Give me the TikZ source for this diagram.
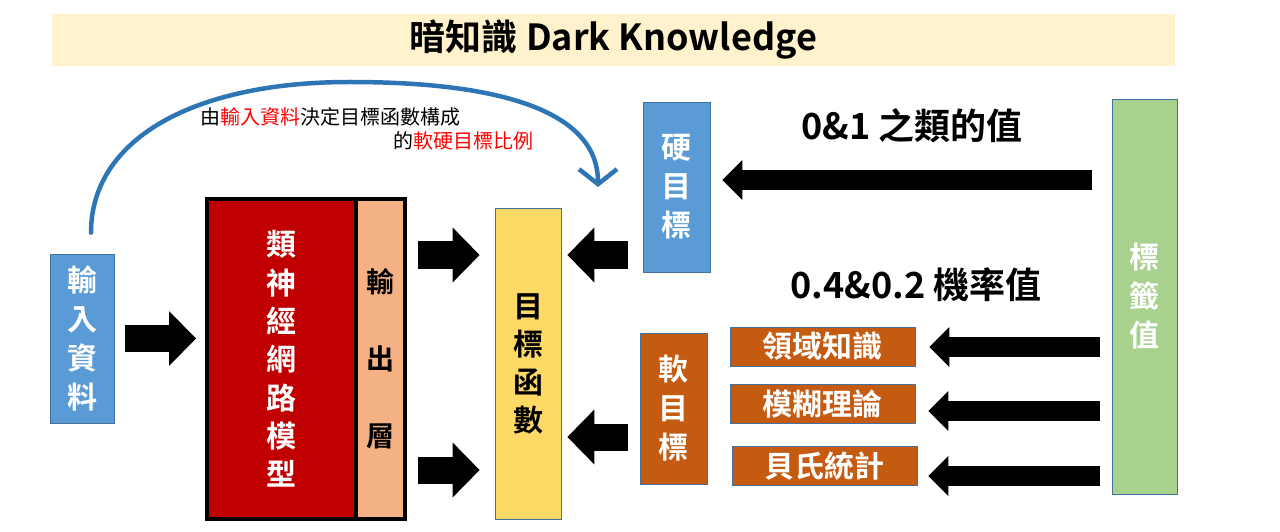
\documentclass[tikz,border=0pt]{standalone}
\usepackage{fontspec}
\setmainfont{Noto Sans CJK TC}[BoldFont={Noto Sans CJK TC Bold}]
\usepackage{tikz}
\usetikzlibrary{arrows.meta,positioning,calc}
\definecolor{boxline}{HTML}{41719C}
\definecolor{skyblue}{HTML}{5B9BD5}
\definecolor{leafgreen}{HTML}{A9D18E}
\definecolor{rust}{HTML}{C55A11}
\definecolor{sun}{HTML}{FFD966}
\definecolor{deepred}{HTML}{C00000}
\definecolor{peach}{HTML}{F4B183}
\definecolor{cream}{HTML}{FFF2CC}
\definecolor{penblue}{HTML}{2E75B6}

\begin{document}
\begin{tikzpicture}[x=1pt,y=1pt,
  v/.style={draw=boxline,line width=0.8pt,inner sep=0pt,align=center,text=white,font=\bfseries\fontsize{30}{39}\selectfont},
  tag/.style={draw=boxline,line width=0.8pt,fill=rust,inner sep=0pt,minimum width=185pt,minimum height=39pt,text=white,font=\bfseries\fontsize{30}{36}\selectfont},
  nn/.style={draw=black,line width=4pt,outer sep=0pt,inner sep=0pt,minimum height=320pt,align=center},
  fat/.style={line width=27pt,-{Triangle[length=27pt,width=55pt,line width=0pt]}},
  slim/.style={line width=20pt,-{Triangle[length=20pt,width=40pt,line width=0pt]}},
  hand/.style={draw=penblue,line width=4.5pt,line cap=round,line join=round,-{Straight Barb[length=15pt,width=38pt]}},
  note/.style={font=\fontsize{20}{24}\selectfont,inner sep=0pt,anchor=west},
  big/.style={font=\bfseries\fontsize{36}{40}\selectfont,inner sep=0pt}]
\useasboundingbox (0,0) rectangle (1280,531);
% title
\node[fill=cream,minimum width=1123pt,minimum height=52pt,inner sep=0pt,font=\bfseries\fontsize{36}{40}\selectfont] (title) at (613.5,491) {暗知識 Dark Knowledge};
% left part
\node[v,fill=skyblue,minimum width=64pt,minimum height=169pt] (in) at (82,192.5) {輸\\入\\資\\料};
\node[nn,fill=deepred,minimum width=149pt,text=white,font=\bfseries\fontsize{30}{38.3}\selectfont] (nnred) at (281.5,172) {類\\神\\經\\網\\路\\模\\型};
\node[nn,fill=peach,minimum width=49pt,right=0pt of nnred,font=\bfseries\fontsize{28}{77}\selectfont] (outl) {輸\\出\\層};
\node[v,fill=sun,text=black,minimum width=66pt,minimum height=311pt,font=\bfseries\fontsize{30}{38}\selectfont] (obj) at (528,167.5) {目\\標\\函\\數};
% targets
\node[v,fill=skyblue,minimum width=67pt,minimum height=170pt] (hard) at (676.5,344) {硬\\目\\標};
\node[v,fill=rust,minimum width=67pt,minimum height=151pt] (soft) at (673.5,122.5) {軟\\目\\標};
\node[tag] (dom) at (822.5,184.5) {領域知識};
\node[tag,below=18pt of dom] (fuzzy) {模糊理論};
\node[tag,below=22pt of fuzzy,xshift=2pt] (bayes) {貝氏統計};
\node[v,fill=leafgreen,minimum width=65pt,minimum height=395pt] (label) at (1144.5,234.5) {標\\籤\\值};
\node[big] (hardtxt) at (912,405) {0\&1 之類的值};
\node[big] (softtxt) at (916,246) {0.4\&0.2 機率值};
% rows of the block arrows
\coordinate (rup) at (0,276);
\coordinate (rlo) at (0,61);
\coordinate (rsoft) at (0,94);
\coordinate (rhard) at (0,351);
\coordinate (r1) at (0,184);
\coordinate (r2) at (0,120);
\coordinate (r3) at (0,55);
\draw[fat,shorten <=11pt,shorten >=11pt] (in.east) -- (in.east -| nnred.west);
\draw[fat,shorten <=13pt,shorten >=15pt] (outl.east |- rup) -- (obj.west |- rup);
\draw[fat,shorten <=13pt,shorten >=15pt] (outl.east |- rlo) -- (obj.west |- rlo);
\draw[fat,shorten <=15pt,shorten >=6pt] (hard.west |- rup) -- (obj.east |- rup);
\draw[fat,shorten <=12pt,shorten >=6pt] (soft.west |- rsoft) -- (obj.east |- rsoft);
\draw[slim,shorten <=20pt,shorten >=12pt] (label.west |- rhard) -- (hard.east |- rhard);
\draw[slim,shorten <=12pt,shorten >=14pt] (label.west |- r1) -- (dom.east |- r1);
\draw[slim,shorten <=12pt,shorten >=13pt] (label.west |- r2) -- (fuzzy.east |- r2);
\draw[slim,shorten <=12pt,shorten >=11pt] (label.west |- r3) -- (bayes.east |- r3);
% hand drawn note
\coordinate (hook) at (598,344);
\draw[hand] ([xshift=9pt,yshift=21pt]in.north) .. controls (91,390) and (190,449) .. (350,449) .. controls (500,449) and (598,420) .. (hook);
\node[note] (n1) at (200,414.5) {由\textcolor{red}{輸入資料}決定目標函數構成};
\node[note] (n2) at (393,390) {的\textcolor{red}{軟硬目標比例}};
\end{tikzpicture}
\end{document}
